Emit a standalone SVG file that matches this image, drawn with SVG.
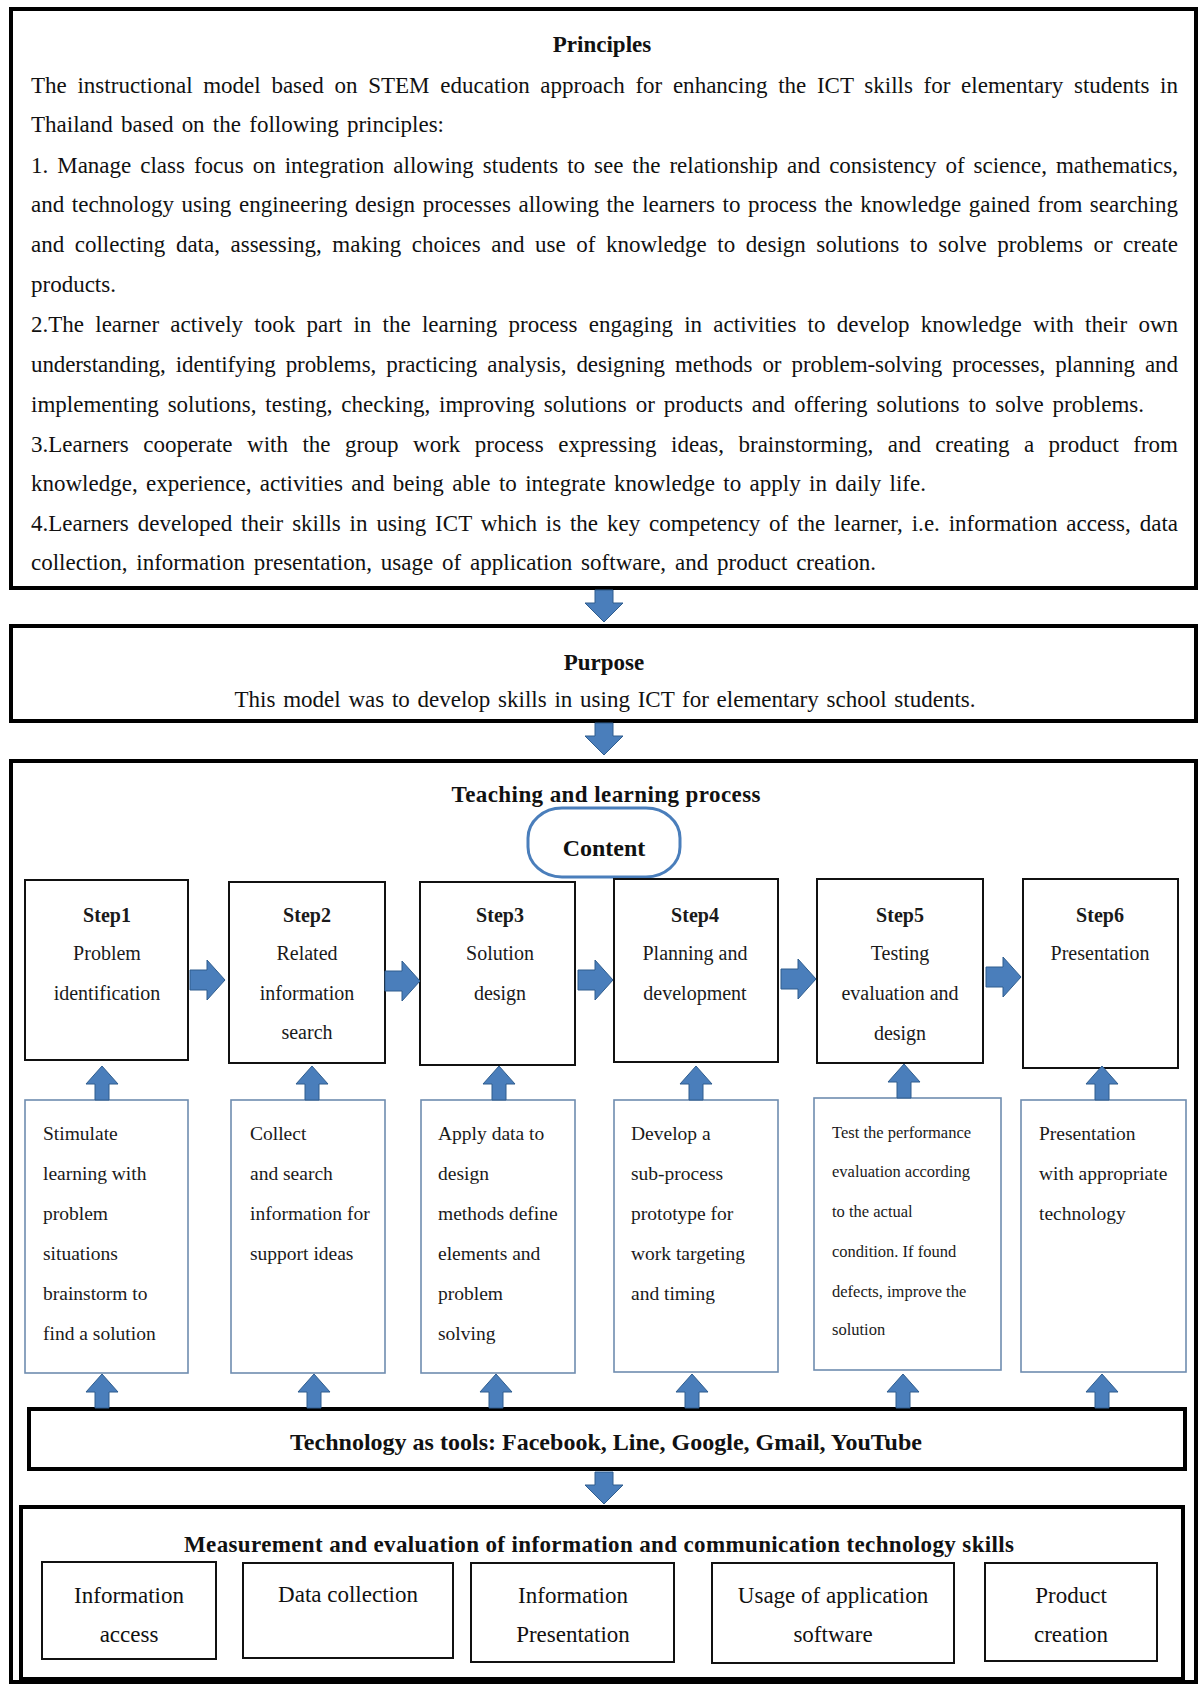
<svg xmlns="http://www.w3.org/2000/svg" width="1200" height="1687" viewBox="0 0 1200 1687">
<style>
.t{font-family:"Liberation Serif","Times New Roman",serif;fill:#111;}
.p{font-size:23px;}
.b{font-weight:bold;}
.c{text-anchor:middle;}
.thick{fill:#fff;stroke:#000;stroke-width:4;}
.step{fill:#fff;stroke:#111;stroke-width:2;}
.desc{fill:#fff;stroke:#6f8db0;stroke-width:1.6;}
.st{font-size:20px;fill:#1a1a1a;}
.ds{font-size:19.5px;fill:#1a1a1a;}
.ds5{font-size:16.5px;fill:#1a1a1a;}
.ar{fill:#4a7ebb;stroke:#2f5d8e;stroke-width:1;}
</style>
<defs>
<path id="down" d="M-9,0 H9 V13 H19 L0,32 L-19,13 H-9 Z"/>
<path id="up" d="M0,0 L16,18 H7 V34 H-7 V18 H-16 Z"/>
<path id="right" d="M0,-10 H17 V-20 L35,0 L17,20 V10 H0 Z"/>
</defs>
<rect width="1200" height="1687" fill="#fff"/>

<g id="principles">
<rect class="thick" x="11" y="9" width="1185" height="579"/>
<text class="t p b c" x="602" y="52">Principles</text>
<text class="t p" x="31" y="93" word-spacing="4.9" textLength="1147" lengthAdjust="spacing">The instructional model based on STEM education approach for enhancing the ICT skills for elementary students in</text>
<text class="t p" x="31" y="132" word-spacing="2.5" textLength="413" lengthAdjust="spacing">Thailand based on the following principles:</text>
<text class="t p" x="31" y="173" word-spacing="3.2" textLength="1147" lengthAdjust="spacing">1. Manage class focus on integration allowing students to see the relationship and consistency of science, mathematics,</text>
<text class="t p" x="31" y="212" word-spacing="1.8" textLength="1147" lengthAdjust="spacing">and technology using engineering design processes allowing the learners to process the knowledge gained from searching</text>
<text class="t p" x="31" y="252" word-spacing="4.8" textLength="1147" lengthAdjust="spacing">and collecting data, assessing, making choices and use of knowledge to design solutions to solve problems or create</text>
<text class="t p" x="31" y="292">products.</text>
<text class="t p" x="31" y="332" word-spacing="5.5" textLength="1147" lengthAdjust="spacing">2.The learner actively took part in the learning process engaging in activities to develop knowledge with their own</text>
<text class="t p" x="31" y="372" word-spacing="4.5" textLength="1147" lengthAdjust="spacing">understanding, identifying problems, practicing analysis, designing methods or problem-solving processes, planning and</text>
<text class="t p" x="31" y="412" word-spacing="3.1" textLength="1113" lengthAdjust="spacing">implementing solutions, testing, checking, improving solutions or products and offering solutions to solve problems.</text>
<text class="t p" x="31" y="452" word-spacing="8.7" textLength="1147" lengthAdjust="spacing">3.Learners cooperate with the group work process expressing ideas, brainstorming, and creating a product from</text>
<text class="t p" x="31" y="491" word-spacing="2.6" textLength="895" lengthAdjust="spacing">knowledge, experience, activities and being able to integrate knowledge to apply in daily life.</text>
<text class="t p" x="31" y="531" word-spacing="3.1" textLength="1147" lengthAdjust="spacing">4.Learners developed their skills in using ICT which is the key competency of the learner, i.e. information access, data</text>
<text class="t p" x="31" y="570" word-spacing="3.1" textLength="845" lengthAdjust="spacing">collection, information presentation, usage of application software, and product creation.</text>
</g>

<g id="purpose">
<rect class="thick" x="11" y="626" width="1185" height="95"/>
<text class="t p b c" x="604" y="670">Purpose</text>
<text class="t p c" x="605" y="707" word-spacing="2">This model was to develop skills in using ICT for elementary school students.</text>
</g>

<g id="teaching">
<rect class="thick" x="11" y="761" width="1185" height="921"/>
<text class="t p b c" x="606" y="802" textLength="309" lengthAdjust="spacing">Teaching and learning process</text>
</g>

<g id="content">
<rect x="528" y="808" width="152" height="69" rx="34" ry="30" fill="#fff" stroke="#4a7ebb" stroke-width="3"/>
<text class="t b c" x="604" y="856" style="font-size:24px">Content</text>
</g>

<g id="step1">
<rect class="step" x="25" y="880" width="163" height="180"/>
<text class="t st b c" x="107" y="922">Step1</text>
<text class="t st c" x="107" y="960">Problem</text>
<text class="t st c" x="107" y="1000">identification</text>
</g>
<g id="step2">
<rect class="step" x="229" y="882" width="156" height="181"/>
<text class="t st b c" x="307" y="922">Step2</text>
<text class="t st c" x="307" y="960">Related</text>
<text class="t st c" x="307" y="1000">information</text>
<text class="t st c" x="307" y="1039">search</text>
</g>
<g id="step3">
<rect class="step" x="420" y="882" width="155" height="183"/>
<text class="t st b c" x="500" y="922">Step3</text>
<text class="t st c" x="500" y="960">Solution</text>
<text class="t st c" x="500" y="1000">design</text>
</g>
<g id="step4">
<rect class="step" x="614" y="879" width="164" height="183"/>
<text class="t st b c" x="695" y="922">Step4</text>
<text class="t st c" x="695" y="960">Planning and</text>
<text class="t st c" x="695" y="1000">development</text>
</g>
<g id="step5">
<rect class="step" x="817" y="879" width="166" height="184"/>
<text class="t st b c" x="900" y="922">Step5</text>
<text class="t st c" x="900" y="960">Testing</text>
<text class="t st c" x="900" y="1000">evaluation and</text>
<text class="t st c" x="900" y="1040">design</text>
</g>
<g id="step6">
<rect class="step" x="1023" y="879" width="155" height="189"/>
<text class="t st b c" x="1100" y="922">Step6</text>
<text class="t st c" x="1100" y="960">Presentation</text>
</g>

<g id="desc1">
<rect class="desc" x="25" y="1100" width="163" height="273"/>
<text class="t ds" x="43" y="1140">Stimulate</text>
<text class="t ds" x="43" y="1180">learning with</text>
<text class="t ds" x="43" y="1220">problem</text>
<text class="t ds" x="43" y="1260">situations</text>
<text class="t ds" x="43" y="1300">brainstorm to</text>
<text class="t ds" x="43" y="1340">find a solution</text>
</g>
<g id="desc2">
<rect class="desc" x="231" y="1100" width="154" height="273"/>
<text class="t ds" x="250" y="1140">Collect</text>
<text class="t ds" x="250" y="1180">and search</text>
<text class="t ds" x="250" y="1220">information for</text>
<text class="t ds" x="250" y="1260">support ideas</text>
</g>
<g id="desc3">
<rect class="desc" x="421" y="1100" width="154" height="273"/>
<text class="t ds" x="438" y="1140">Apply data to</text>
<text class="t ds" x="438" y="1180">design</text>
<text class="t ds" x="438" y="1220">methods define</text>
<text class="t ds" x="438" y="1260">elements and</text>
<text class="t ds" x="438" y="1300">problem</text>
<text class="t ds" x="438" y="1340">solving</text>
</g>
<g id="desc4">
<rect class="desc" x="614" y="1100" width="164" height="272"/>
<text class="t ds" x="631" y="1140">Develop a</text>
<text class="t ds" x="631" y="1180">sub-process</text>
<text class="t ds" x="631" y="1220">prototype for</text>
<text class="t ds" x="631" y="1260">work targeting</text>
<text class="t ds" x="631" y="1300">and timing</text>
</g>
<g id="desc5">
<rect class="desc" x="814" y="1098" width="187" height="272"/>
<text class="t ds5" x="832" y="1138">Test the performance</text>
<text class="t ds5" x="832" y="1177">evaluation according</text>
<text class="t ds5" x="832" y="1217">to the actual</text>
<text class="t ds5" x="832" y="1257">condition. If found</text>
<text class="t ds5" x="832" y="1297">defects, improve the</text>
<text class="t ds5" x="832" y="1335">solution</text>
</g>
<g id="desc6">
<rect class="desc" x="1021" y="1100" width="165" height="272"/>
<text class="t ds" x="1039" y="1140">Presentation</text>
<text class="t ds" x="1039" y="1180">with appropriate</text>
<text class="t ds" x="1039" y="1220">technology</text>
</g>

<g id="technology">
<rect class="thick" x="29" y="1409" width="1156" height="60"/>
<text class="t b c" x="606" y="1450" style="font-size:24px" textLength="632" lengthAdjust="spacing">Technology as tools: Facebook, Line, Google, Gmail, YouTube</text>
</g>

<g id="measurement">
<rect class="thick" x="21" y="1507" width="1162" height="172"/>
<text class="t p b c" x="599" y="1552" textLength="830" lengthAdjust="spacing">Measurement and evaluation of information and communication technology skills</text>
<rect class="step" x="42" y="1562" width="174" height="97"/>
<text class="t p c" x="129" y="1603">Information</text>
<text class="t p c" x="129" y="1642">access</text>
<rect class="step" x="243" y="1563" width="210" height="95"/>
<text class="t p c" x="348" y="1602">Data collection</text>
<rect class="step" x="471" y="1563" width="203" height="99"/>
<text class="t p c" x="573" y="1603">Information</text>
<text class="t p c" x="573" y="1642">Presentation</text>
<rect class="step" x="712" y="1563" width="242" height="100"/>
<text class="t p c" x="833" y="1603">Usage of application</text>
<text class="t p c" x="833" y="1642">software</text>
<rect class="step" x="985" y="1563" width="172" height="98"/>
<text class="t p c" x="1071" y="1603">Product</text>
<text class="t p c" x="1071" y="1642">creation</text>
</g>

<g id="connectors" class="ar">
<use href="#down" x="604" y="590"/>
<use href="#down" x="604" y="723"/>
<use href="#down" x="604" y="1472"/>
<use href="#right" x="190" y="980"/>
<use href="#right" x="385" y="981"/>
<use href="#right" x="578" y="980"/>
<use href="#right" x="781" y="979"/>
<use href="#right" x="986" y="977"/>
<use href="#up" x="102" y="1066"/>
<use href="#up" x="312" y="1066"/>
<use href="#up" x="499" y="1066"/>
<use href="#up" x="696" y="1066"/>
<use href="#up" x="904" y="1064"/>
<use href="#up" x="1102" y="1066"/>
<use href="#up" x="102" y="1374"/>
<use href="#up" x="314" y="1374"/>
<use href="#up" x="496" y="1374"/>
<use href="#up" x="692" y="1374"/>
<use href="#up" x="903" y="1374"/>
<use href="#up" x="1102" y="1374"/>
</g>
</svg>
